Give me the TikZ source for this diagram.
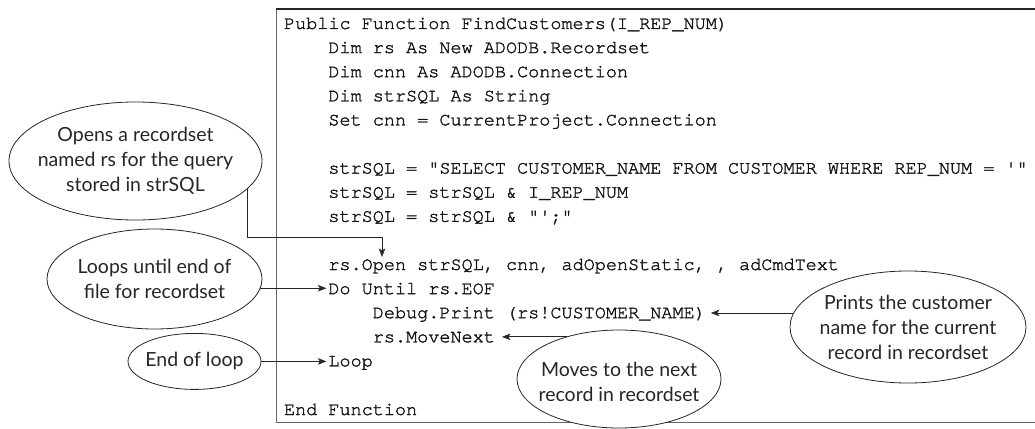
\documentclass[tikz,border=0pt]{standalone}
\usepackage{fontspec}
\setmonofont{texgyrecursor-regular.otf}[FakeBold=1.6]
\newfontfamily\ellfont{Lato}
\usetikzlibrary{arrows.meta,shapes.geometric,calc}
\begin{document}
\begin{tikzpicture}[x=1pt,y=-1pt,
  code/.style={anchor=base west, inner sep=0pt, outer sep=0pt,
    font=\ttfamily\fontsize{18.5}{20}\selectfont, text=black!92},
  ell/.style={ellipse, draw=black!85, line width=0.8pt, fill=white,
    inner sep=0pt, outer sep=0pt},
  etext/.style={align=center, inner sep=0pt,
    font=\ellfont\fontsize{19.5}{25}\selectfont, text=black!85},
  conn/.style={draw=black!85, line width=0.8pt,
    -{Stealth[length=8.5pt,width=6.5pt,inset=2pt]}},
  boxline/.style={draw=black!60, line width=0.9pt}]
\useasboundingbox (0,0) rectangle (1035,428);

% code box
\draw[boxline] (1040,422) -- (276,422) -- (276,9);
\draw[draw=black!85, line width=1.5pt] (275.6,9) -- (1040,9);

% code lines (baseline = visual centre + 5)
\node[code] (l0)  at (284,29)     {Public Function FindCustomers(I\_REP\_NUM)};
\node[code] (l1)  at (328.4,53.1) {Dim rs As New ADODB.Recordset};
\node[code] (l2)  at (328.4,77.2) {Dim cnn As ADODB.Connection};
\node[code] (l3)  at (328.4,101.3){Dim strSQL As String};
\node[code] (l4)  at (328.4,125.4){Set cnn = CurrentProject.Connection};
\node[code] (l6)  at (328.4,173.6){strSQL = "SELECT CUSTOMER\_NAME FROM CUSTOMER WHERE REP\_NUM = '"};
\node[code] (l7)  at (328.4,197.7){strSQL = strSQL \& I\_REP\_NUM};
\node[code] (l8)  at (328.4,221.8){strSQL = strSQL \& "';"};
\node[code] (l10) at (328.4,270)  {rs.Open strSQL, cnn, adOpenStatic, , adCmdText};
\node[code] (l11) at (328.4,294.1){Do Until rs.EOF};
\node[code] (l12) at (372.8,318.2){Debug.Print (rs!CUSTOMER\_NAME)};
\node[code] (l13) at (372.8,342.3){rs.MoveNext};
\node[code] (l14) at (328.4,366.4){Loop};
\node[code] (l16) at (284,415)    {End Function};

% callout ellipses
\node[ell, minimum width=253pt, minimum height=118pt] (e1) at (135.5,161) {};
\node[ell, minimum width=215pt, minimum height=100pt] (e2) at (154.5,279) {};
\node[ell, minimum width=133pt, minimum height=56pt]  (e3) at (194.5,361.4) {};
\node[ell, minimum width=236pt, minimum height=112pt] (e4) at (908,327) {};
\node[ell, minimum width=204pt, minimum height=98pt]  (e5) at (619,379) {};

% connectors
\coordinate (bend) at (382,237);
\coordinate (opentip) at (382,257);
\draw[conn] (e1.-14) |- (bend) -- (opentip);
\draw[conn] (e2.-5.4) -- ($(l11.west |- e2.-5.4)+(-2,0)$);
\draw[conn] (e3.east) -- ($(l14.west |- e3.east)+(-2,0)$);
\draw[conn] (e4.173) -- ($(l12.east |- e4.173)+(5,0)$);
\draw[conn] (e5.141.3) -- ($(l13.east |- e5.141.3)+(7,0)$);

% callout texts
\node[etext] (t1) at (e1) {Opens a recordset\\named rs for the query\\stored in strSQL};
\node[etext] (t2) at (e2) {Loops until end of\\file for recordset};
\node[etext] (t3) at (e3) {End of loop};
\node[etext] (t4) at (e4) {Prints the customer\\name for the current\\record in recordset};
\node[etext] (t5) at ($(e5)+(0,3)$) {Moves to the next\\record in recordset};
\end{tikzpicture}
\end{document}
